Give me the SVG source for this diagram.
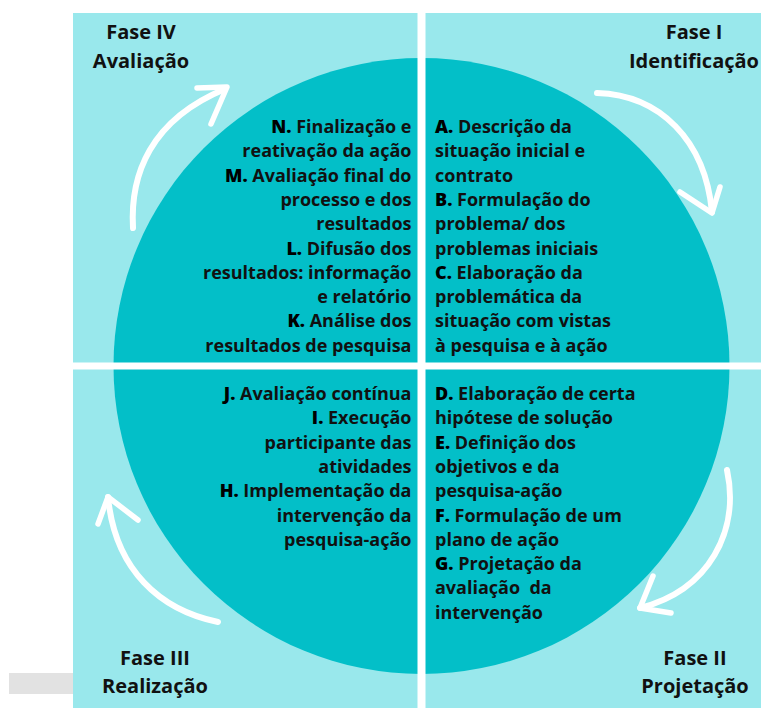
<svg xmlns="http://www.w3.org/2000/svg" width="761" height="708" viewBox="0 0 761 708">
<style>
.t{font-family:"Open Sans","Liberation Sans",sans-serif;font-weight:700;font-size:18px;fill:#111;white-space:pre}
.r{text-anchor:end}
.k{font-weight:800;fill:#000}
.ph{font-family:"Open Sans","Liberation Sans",sans-serif;font-weight:700;font-size:20px;fill:#111;text-anchor:middle}
.arr{fill:none;stroke:#fff;stroke-width:6;stroke-linecap:round;stroke-linejoin:round}
.head{fill:none;stroke:#fff;stroke-width:5.5;stroke-linecap:round;stroke-linejoin:round}
</style>
<rect x="0" y="0" width="761" height="708" fill="#fff"/>
<rect x="9" y="673" width="64" height="21" fill="#e2e2e2"/>
<rect x="73" y="13" width="688" height="695" fill="#99e8ec"/>
<circle cx="421.5" cy="366" r="308" fill="#03bfc8"/>
<rect x="417.5" y="13" width="8" height="695" fill="#fff"/>
<rect x="73" y="362.5" width="688" height="7" fill="#fff"/>

<g id="connectors">
<path class="arr" d="M133,228 C130,175 150,120 225,89"/>
<path class="head" d="M197,88 L227,87 L211,124"/>
<path class="arr" d="M597,93 C660,95 705,140 712,212"/>
<path class="head" d="M680,192 L712,213 L720,187"/>
<path class="arr" d="M727,470 C740,530 710,590 640,608"/>
<path class="head" d="M653,576 L640,608 L671,613"/>
<path class="arr" d="M218,622 C160,610 115,570 108,497"/>
<path class="head" d="M98,524 L108,497 L138,520"/>
</g>

<g id="fase-iv">
<text class="ph" x="141" y="39">Fase IV</text>
<text class="ph" x="141" y="68">Avaliação</text>
</g>
<g id="fase-i">
<text class="ph" x="694" y="39">Fase I</text>
<text class="ph" x="694" y="68">Identificação</text>
</g>
<g id="fase-iii">
<text class="ph" x="155" y="665">Fase III</text>
<text class="ph" x="155" y="693">Realização</text>
</g>
<g id="fase-ii">
<text class="ph" x="695" y="665">Fase II</text>
<text class="ph" x="695" y="693">Projetação</text>
</g>

<g id="quadrant-iv">
<text class="t r" x="411.5" y="133"><tspan class="k">N.</tspan> Finalização e</text>
<text class="t r" x="411.5" y="157.3">reativação da ação</text>
<text class="t r" x="411.5" y="181.6"><tspan class="k">M.</tspan> Avaliação final do</text>
<text class="t r" x="411.5" y="205.9">processo e dos</text>
<text class="t r" x="411.5" y="230.2">resultados</text>
<text class="t r" x="411.5" y="254.5"><tspan class="k">L.</tspan> Difusão dos</text>
<text class="t r" x="411.5" y="278.8">resultados: informação</text>
<text class="t r" x="411.5" y="303.1">e relatório</text>
<text class="t r" x="411.5" y="327.4"><tspan class="k">K.</tspan> Análise dos</text>
<text class="t r" x="411.5" y="351.7">resultados de pesquisa</text>
</g>

<g id="quadrant-i">
<text class="t" x="435" y="133"><tspan class="k">A.</tspan> Descrição da</text>
<text class="t" x="435" y="157.3">situação inicial e</text>
<text class="t" x="435" y="181.6">contrato</text>
<text class="t" x="435" y="205.9"><tspan class="k">B.</tspan> Formulação do</text>
<text class="t" x="435" y="230.2">problema/ dos</text>
<text class="t" x="435" y="254.5">problemas iniciais</text>
<text class="t" x="435" y="278.8"><tspan class="k">C.</tspan> Elaboração da</text>
<text class="t" x="435" y="303.1">problemática da</text>
<text class="t" x="435" y="327.4">situação com vistas</text>
<text class="t" x="435" y="351.7">à pesquisa e à ação</text>
</g>

<g id="quadrant-iii">
<text class="t r" x="411.5" y="400"><tspan class="k">J.</tspan> Avaliação contínua</text>
<text class="t r" x="411.5" y="424.3"><tspan class="k">I.</tspan> Execução</text>
<text class="t r" x="411.5" y="448.6">participante das</text>
<text class="t r" x="411.5" y="472.9">atividades</text>
<text class="t r" x="411.5" y="497.2"><tspan class="k">H.</tspan> Implementação da</text>
<text class="t r" x="411.5" y="521.5">intervenção da</text>
<text class="t r" x="411.5" y="545.8">pesquisa-ação</text>
</g>

<g id="quadrant-ii">
<text class="t" x="435" y="400"><tspan class="k">D.</tspan> Elaboração de certa</text>
<text class="t" x="435" y="424.3">hipótese de solução</text>
<text class="t" x="435" y="448.6"><tspan class="k">E.</tspan> Definição dos</text>
<text class="t" x="435" y="472.9">objetivos e da</text>
<text class="t" x="435" y="497.2">pesquisa-ação</text>
<text class="t" x="435" y="521.5"><tspan class="k">F.</tspan> Formulação de um</text>
<text class="t" x="435" y="545.8">plano de ação</text>
<text class="t" x="435" y="570.1"><tspan class="k">G.</tspan> Projetação da</text>
<text class="t" x="435" y="594.4">avaliação  da</text>
<text class="t" x="435" y="618.7">intervenção</text>
</g>
</svg>
